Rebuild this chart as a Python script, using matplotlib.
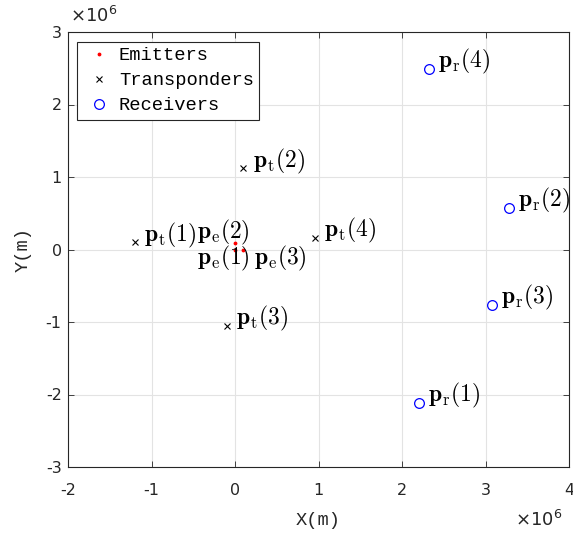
import matplotlib
matplotlib.use("Agg")
import matplotlib.pyplot as plt
import numpy as np

plt.rcParams['mathtext.fontset'] = 'cm'

# Data (units: metres)
emit_x = [0.0, 0.0, 0.1e6]
emit_y = [0.0, 0.09e6, 0.0]
trans_x = [-1.2e6, 0.1e6, -0.1e6, 0.96e6]
trans_y = [0.1e6, 1.12e6, -1.05e6, 0.16e6]
recv_x = [2.2e6, 3.28e6, 3.08e6, 2.32e6]
recv_y = [-2.12e6, 0.57e6, -0.76e6, 2.49e6]

emit_labels = [r'$\mathbf{p}_{\mathrm{e}}(1)$', r'$\mathbf{p}_{\mathrm{e}}(2)$', r'$\mathbf{p}_{\mathrm{e}}(3)$']
trans_labels = [r'$\mathbf{p}_{\mathrm{t}}(%d)$' % i for i in range(1, 5)]
recv_labels = [r'$\mathbf{p}_{\mathrm{r}}(%d)$' % i for i in range(1, 5)]

# label offsets for emitters (data units)
emit_dx = [-0.455e6, -0.455e6, 0.13e6]
emit_dy = [-0.12e6, 0.14e6, -0.12e6]

xticks = [-2, -1, 0, 1, 2, 3, 4]
yticks = [-3, -2, -1, 0, 1, 2, 3]

fig = plt.figure(figsize=(5.73, 5.34), dpi=100)
ax = fig.add_axes([68/573, 1-467/534, 501/573, 435/534])

mono = 'Liberation Mono'
tc = '#262626'

ax.plot(emit_x, emit_y, '.', color='red', markersize=3.5, label='Emitters', linestyle='none')
ax.plot(trans_x, trans_y, 'x', color='black', markersize=5, markeredgewidth=0.8, label='Transponders', linestyle='none')
ax.plot(recv_x, recv_y, 'o', color='blue', markerfacecolor='none', markersize=7, markeredgewidth=0.9, label='Receivers', linestyle='none')

fs_lab = 17
for x, y, s, dx, dy in zip(emit_x, emit_y, emit_labels, emit_dx, emit_dy):
    ax.text(x + dx, y + dy, s, fontsize=fs_lab, va='center', ha='left', color='black')
for x, y, s in zip(trans_x, trans_y, trans_labels):
    ax.text(x + 0.11e6, y + 0.1e6, s, fontsize=fs_lab, va='center', ha='left', color='black')
for x, y, s in zip(recv_x, recv_y, recv_labels):
    ax.text(x + 0.11e6, y + 0.1e6, s, fontsize=fs_lab, va='center', ha='left', color='black')

ax.set_xlim(-2e6, 4e6)
ax.set_ylim(-3e6, 3e6)
ax.set_xticks([t * 1e6 for t in xticks])
ax.set_yticks([t * 1e6 for t in yticks])
ax.set_xticklabels([str(t) for t in xticks])
ax.set_yticklabels([str(t) for t in yticks])
ax.tick_params(direction='in', top=True, right=True, length=4, width=0.6, labelsize=11.5, colors=tc, labelcolor=tc)
ax.tick_params(axis='x', pad=11.5)
ax.tick_params(axis='y', pad=4.5)
ax.grid(True, color='#e3e3e3', linewidth=0.8)
ax.set_axisbelow(True)
for sp in ax.spines.values():
    sp.set_color(tc)
    sp.set_linewidth(0.8)

ax.set_xlabel('X(m)', fontfamily=mono, fontsize=13.5, color=tc, labelpad=10)
ax.set_ylabel('Y(m)', fontfamily=mono, fontsize=13.5, color=tc, labelpad=10)

fig.text(70/573, 1-16/534, r'$\times10^{6}$', fontsize=13, color=tc, ha='left', va='center',
         fontfamily='DejaVu Sans', math_fontfamily='dejavusans')
fig.text(515/573, 1-520/534, r'$\times10^{6}$', fontsize=13, color=tc, ha='left', va='center',
         fontfamily='DejaVu Sans', math_fontfamily='dejavusans')

leg = ax.legend(loc='upper left', bbox_to_anchor=((77-68)/501, 1-(42-32)/435), borderaxespad=0,
                prop={'family': mono, 'size': 13.5},
                frameon=True, fancybox=False, edgecolor=tc, framealpha=1, borderpad=0.28,
                handletextpad=0.2, handlelength=1.75, labelspacing=0.42, markerscale=1.0)
leg.get_frame().set_linewidth(0.8)

fig.savefig('out.png', dpi=100)
